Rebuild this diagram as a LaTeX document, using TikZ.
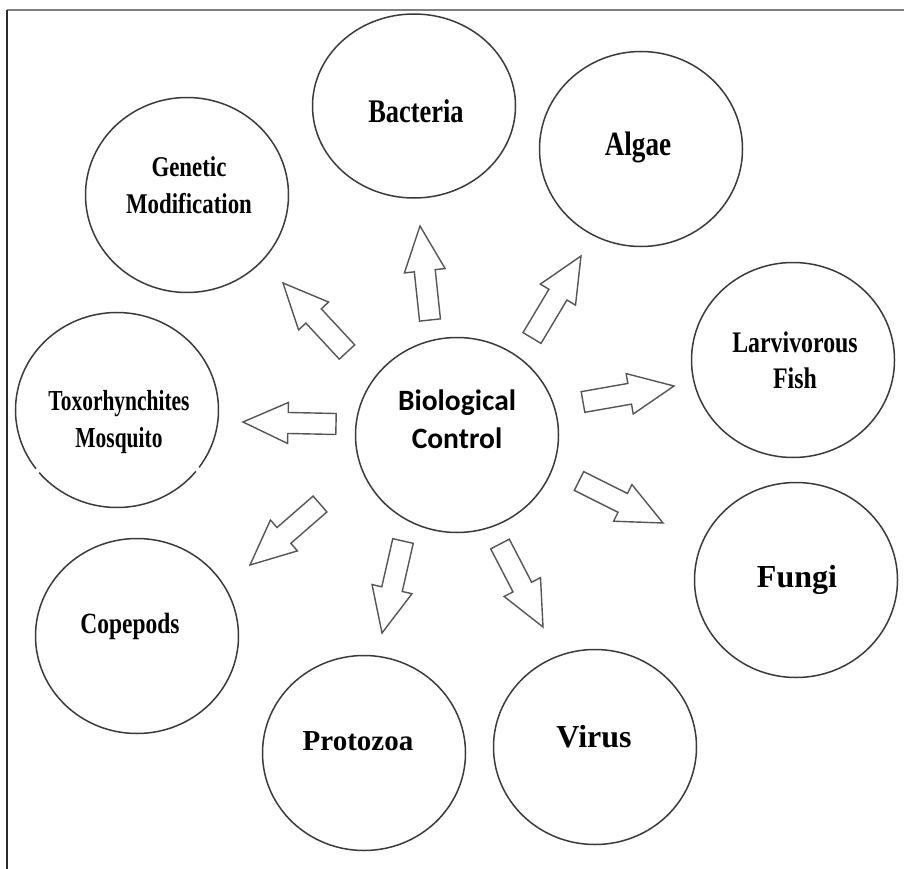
\documentclass[tikz,border=0pt]{standalone}
\usepackage{fontspec}
\setmainfont{Liberation Serif}
\newfontfamily\condA[FakeStretch=0.80]{Liberation Serif}
\newfontfamily\condB[FakeStretch=0.74]{Liberation Serif}
\newfontfamily\calib{Carlito}
\usetikzlibrary{shapes.geometric,calc}
\definecolor{circcol}{HTML}{3A3A3A}
\definecolor{arrcol}{HTML}{555555}
\definecolor{topcol}{HTML}{808080}
\definecolor{leftcol}{HTML}{2A2A2A}
\newcommand\twoline[2]{\begin{tabular}[t]{@{}c@{}}#1\\#2\end{tabular}}
\newcommand\fatarrow[3]{%
  \coordinate (#1t) at #2;
  \coordinate (#1h) at #3;
  \coordinate (#1b) at ($(#1h)!45pt!(#1t)$);
  \draw[arrowline] ($(#1t)!10.5pt!90:(#1h)$) -- ($(#1b)!10.5pt!90:(#1h)$)
    -- ($(#1b)!20.5pt!90:(#1h)$) -- (#1h) -- ($(#1b)!20.5pt!-90:(#1h)$)
    -- ($(#1b)!10.5pt!-90:(#1h)$) -- ($(#1t)!10.5pt!-90:(#1h)$) -- cycle;
}
\tikzset{
  circ/.style={ellipse, draw=circcol, line width=1.5pt, minimum width=203pt, minimum height=195pt, inner sep=0pt},
  arrowline/.style={draw=arrcol, line width=1.4pt, line join=miter, fill=white},
  lbl/.style={align=center, inner sep=0pt, text=black, anchor=base},
}
\begin{document}
\begin{tikzpicture}[x=1pt,y=-1pt]
\useasboundingbox (0,0) rectangle (904,869);
% frame
\coordinate (fl) at (7,10);
\coordinate (fr) at (904,10);
\coordinate (fb) at (7,869);
\draw[topcol, line width=1.6pt] (fl) -- (fr);
\draw[leftcol, line width=1.3pt] (fl) -- (fb);

% circles
\node[circ] (bc) at (457,435) {};
\node[circ] (gen) at (187,195) {};
\node[circ, minimum height=184pt] (bac) at (414,106) {};
\node[circ] (alg) at (641,149) {};
\node[circ] (fish) at (793,360) {};
\node[circ] (fun) at (796,580) {};
\node[circ] (vir) at (595,747) {};
\node[circ] (pro) at (364,753) {};
\node[circ] (cop) at (137,636) {};
\node[circ, draw=none] (tox) at (117,410) {};
\draw[circcol, line width=1.5pt] ([shift={(39:101.5 and 97.5)}]tox.center) arc[start angle=39, end angle=140, x radius=101.5, y radius=97.5];
\draw[circcol, line width=1.5pt] ([shift={(143:101.5 and 97.5)}]tox.center) arc[start angle=143, end angle=396, x radius=101.5, y radius=97.5];

% labels
\node[lbl, font=\calib\bfseries\fontsize{29.5}{38}\selectfont] (bct) at (457,410) {\twoline{Biological}{Control}};
\node[lbl, font=\condA\bfseries\fontsize{28.6}{37}\selectfont] (gent) at (189,176) {\twoline{Genetic}{Modification}};
\node[lbl, font=\condA\bfseries\fontsize{33}{38}\selectfont] (bact) at (416,123) {Bacteria};
\node[lbl, font=\condA\bfseries\fontsize{34}{38}\selectfont] (algt) at (638,156) {Algae};
\node[lbl, font=\condA\bfseries\fontsize{29.8}{36}\selectfont] (fisht) at (795,352) {\twoline{Larvivorous}{Fish}};
\node[lbl, font=\bfseries\fontsize{32}{38}\selectfont] (funt) at (797,587) {Fungi};
\node[lbl, font=\bfseries\fontsize{32}{38}\selectfont] (virt) at (594,747) {Virus};
\node[lbl, font=\bfseries\fontsize{29}{38}\selectfont] (prot) at (358,750) {Protozoa};
\node[lbl, font=\condA\bfseries\fontsize{29.3}{38}\selectfont] (copt) at (130,633) {Copepods};
\node[lbl, font=\condB\bfseries\fontsize{29}{37}\selectfont] (toxt) at (119,410) {\twoline{Toxorhynchites}{Mosquito}};

% block arrows
\fatarrow{ag}{(347,352)}{(283,283)}
\fatarrow{ab}{(430,320)}{(420,226)}
\fatarrow{aa}{(532,338)}{(581,256)}
\fatarrow{af}{(583,402)}{(674,386)}
\fatarrow{au}{(579,481)}{(663,523)}
\fatarrow{av}{(500,544)}{(543,627)}
\fatarrow{ap}{(403,541)}{(382,633)}
\fatarrow{ac}{(320,504)}{(250,565)}
\fatarrow{at}{(336,424)}{(243,422)}
\end{tikzpicture}
\end{document}
